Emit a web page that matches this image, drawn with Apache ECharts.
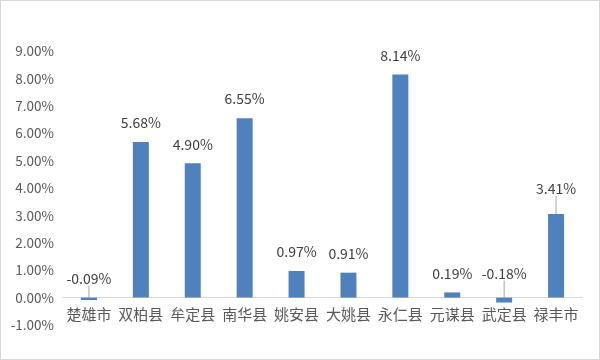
<!DOCTYPE html>
<html><head><meta charset="utf-8">
<script src="https://cdn.jsdelivr.net/npm/echarts@6/dist/echarts.min.js"></script>
<style>html,body{margin:0;padding:0;background:#fff}#c{width:600px;height:360px;box-sizing:border-box;border:1px solid #d9d9d9}</style>
</head><body><div id="c"></div>
<script>
const categories = ['楚雄市','双柏县','牟定县','南华县','姚安县','大姚县','永仁县','元谋县','武定县','禄丰市'];
const values = [-0.09, 5.68, 4.90, 6.55, 0.97, 0.91, 8.14, 0.19, -0.18, 3.05];
const labelTexts = ['-0.09%','5.68%','4.90%','6.55%','0.97%','0.91%','8.14%','0.19%','-0.18%','3.41%'];
const labelShift = [0, 0, 0, 0, 0, 0, 0, 0, -5, -6];
const hasLeader = [true, false, false, false, false, false, false, false, true, true];
const yTicks = {min: -1, max: 9, interval: 1};

const chart = echarts.init(document.getElementById('c'));
const font = '"Noto Sans CJK SC", "Noto Sans", sans-serif';
chart.setOption({
  animation: false,
  grid: {left: 62, right: 17, top: 50, bottom: 34},
  xAxis: {
    type: 'category', data: categories,
    axisLine: {onZero: true, lineStyle: {color: '#d9d9d9', width: 1}},
    axisTick: {show: false},
    axisLabel: {color: '#595959', fontSize: 15, fontFamily: font, margin: -18, interval: 0}
  },
  yAxis: {
    type: 'value', min: yTicks.min, max: yTicks.max, interval: yTicks.interval,
    axisLine: {show: false}, axisTick: {show: false}, splitLine: {show: false},
    axisLabel: {color: '#595959', fontSize: 13.5, fontFamily: font, margin: 9,
      formatter: v => v.toFixed(2) + '%'}
  },
  series: [{
    type: 'bar', barWidth: 16,
    data: values.map((v, i) => ({
      value: v,
      labelLine: {show: hasLeader[i], lineStyle: {color: '#a6a6a6', width: 1}}
    })),
    itemStyle: {color: '#4f81bd'},
    label: {show: true, position: 'top', distance: 12, color: '#404040', fontSize: 14, fontFamily: font,
      formatter: p => labelTexts[p.dataIndex]},
    labelLayout: p => ({dy: labelShift[p.dataIndex]})
  }]
});
</script></body></html>
